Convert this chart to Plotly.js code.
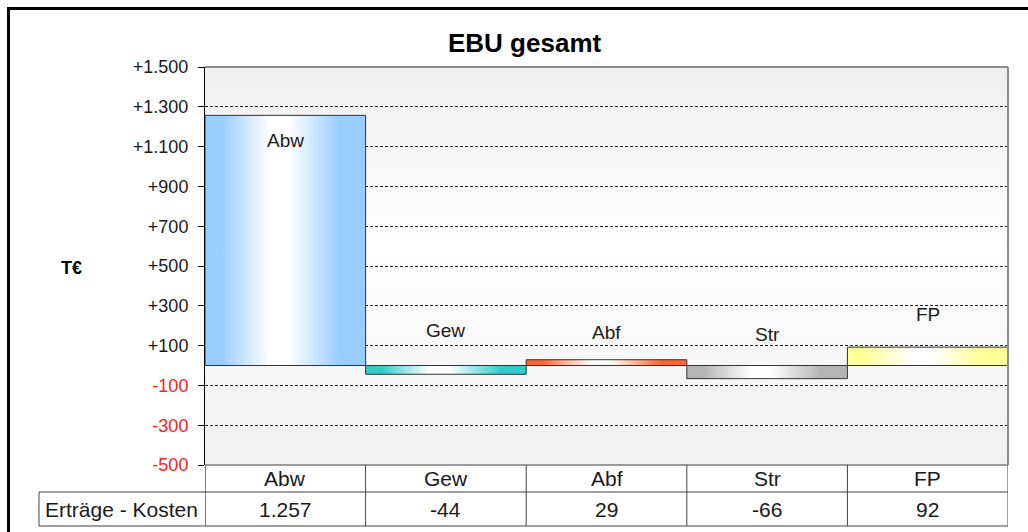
<!DOCTYPE html>
<html>
<head>
<meta charset="utf-8">
<script src="https://cdn.plot.ly/plotly-3.0.1.min.js"></script>
<style>html,body{margin:0;padding:0;background:#fff;}#chart{width:1028px;height:532px;}</style>
</head>
<body>
<div id="chart"></div>
<script>
// ---- data ----
const categories = ['Abw', 'Gew', 'Abf', 'Str', 'FP'];
const values = [1257, -44, 29, -66, 92];
const rowLabel = 'Erträge - Kosten';
const tickValues = [-500, -300, -100, 100, 300, 500, 700, 900, 1100, 1300, 1500];
const chartTitle = 'EBU gesamt';
const unitLabel = 'T€';

// ---- styles ----
const barColors = ['#99ccff', '#33cccc', '#ff6633', '#b4b4b4', '#ffff99'];
const labelShift = [-25, 35, 27, 31, 33];
const FONT = 'Liberation Sans, Arial, sans-serif';
const TXT = '#1a1a1a';

// plot area in pixels
const L = 205, R = 1008, T = 67, B = 465, W = 1028, H = 532;
const px2x = p => (p - L) / (R - L);
const px2y = p => (B - p) / (B - T);

function fmt(v) {
  const s = String(Math.abs(v)).replace(/\B(?=(\d{3})+(?!\d))/g, '.');
  return (v < 0 ? '-' : '') + s;
}
const tickText = tickValues.map(v => v < 0
  ? '<span style="color:#ff2020">' + fmt(v) + '</span>'
  : '+' + fmt(v));

// bars as filled shapes with horizontal gradient
const traces = categories.map((c, i) => ({
  type: 'scatter', mode: 'lines',
  x: [i - 0.5, i + 0.5, i + 0.5, i - 0.5, i - 0.5],
  y: [0, 0, values[i], values[i], 0],
  fill: 'toself',
  fillcolor: barColors[i],
  fillgradient: {
    type: 'horizontal',
    colorscale: [[0, barColors[i]], [0.1, barColors[i]], [0.4, '#ffffff'], [0.52, '#ffffff'], [0.84, barColors[i]], [1, barColors[i]]]
  },
  line: {color: '#333333', width: 1},
  hoverinfo: 'skip', showlegend: false, name: c
}));

const annotations = [];
categories.forEach((c, i) => {
  annotations.push({x: i, y: Math.max(values[i], 0), xref: 'x', yref: 'y', text: c, showarrow: false,
    yshift: labelShift[i], xanchor: 'center', yanchor: 'middle', font: {family: FONT, size: 19, color: TXT}});
  annotations.push({x: i, y: px2y(478.5), xref: 'x', yref: 'paper', text: c, showarrow: false,
    xanchor: 'center', yanchor: 'middle', font: {family: FONT, size: 21, color: TXT}});
  annotations.push({x: i, y: px2y(509), xref: 'x', yref: 'paper', text: fmt(values[i]), showarrow: false,
    xanchor: 'center', yanchor: 'middle', font: {family: FONT, size: 21, color: TXT}});
});
annotations.push({x: px2x(121), y: px2y(509), xref: 'paper', yref: 'paper', text: rowLabel, showarrow: false,
  xanchor: 'center', yanchor: 'middle', font: {family: FONT, size: 21, color: TXT}});
annotations.push({x: px2x(524), y: px2y(43), xref: 'paper', yref: 'paper', text: '<b>' + chartTitle + '</b>', showarrow: false,
  xanchor: 'center', yanchor: 'middle', font: {family: FONT, size: 26, color: '#000'}});
annotations.push({x: px2x(71), y: px2y(268), xref: 'paper', yref: 'paper', text: '<b>' + unitLabel + '</b>', showarrow: false,
  xanchor: 'center', yanchor: 'middle', font: {family: FONT, size: 18, color: '#000'}});

const lineStyle = {color: '#404040', width: 1};
const shapes = [];
// table horizontal lines
shapes.push({type: 'line', xref: 'paper', yref: 'paper', x0: 0, x1: 1, y0: 0, y1: 0, line: lineStyle});
shapes.push({type: 'line', xref: 'paper', yref: 'paper', x0: px2x(39), x1: 1, y0: px2y(492), y1: px2y(492), line: lineStyle});
shapes.push({type: 'line', xref: 'paper', yref: 'paper', x0: px2x(39), x1: 1, y0: px2y(526), y1: px2y(526), line: lineStyle});
shapes.push({type: 'line', xref: 'paper', yref: 'paper', x0: px2x(39), x1: px2x(39), y0: px2y(492), y1: px2y(526), line: lineStyle});
// category dividers in table
for (let i = 0; i <= categories.length; i++) {
  shapes.push({type: 'line', xref: 'x', yref: 'paper', x0: i - 0.5, x1: i - 0.5, y0: 0, y1: px2y(526),
    line: i === 0 ? {color: '#000', width: 1} : lineStyle});
}
// plot area top & right border
shapes.push({type: 'line', xref: 'paper', yref: 'paper', x0: 0, x1: 1, y0: 1, y1: 1, line: {color: '#8c8c8c', width: 2}});
shapes.push({type: 'line', xref: 'paper', yref: 'paper', x0: 1, x1: 1, y0: 0, y1: 1, line: {color: '#8c8c8c', width: 2}});
// outer frame (top & left)
shapes.push({type: 'line', xref: 'paper', yref: 'paper', x0: px2x(7), x1: px2x(W + 10), y0: px2y(8.5), y1: px2y(8.5), line: {color: '#000', width: 3}});
shapes.push({type: 'line', xref: 'paper', yref: 'paper', x0: px2x(8.5), x1: px2x(8.5), y0: px2y(7), y1: px2y(H + 10), line: {color: '#000', width: 3}});

const bgSvg = "<svg xmlns='http://www.w3.org/2000/svg' width='10' height='100' viewBox='0 0 10 100' preserveAspectRatio='none'>" +
  "<defs><linearGradient id='g' x1='0' y1='0' x2='0' y2='1'>" +
  "<stop offset='0' stop-color='#eeeeee'/><stop offset='0.45' stop-color='#ffffff'/><stop offset='1' stop-color='#f0f0f0'/>" +
  "</linearGradient></defs><rect width='10' height='100' fill='url(#g)'/></svg>";
const bgSrc = 'data:image/svg+xml;charset=utf-8,' + encodeURIComponent(bgSvg);

const layout = {
  width: W, height: H,
  margin: {l: L, r: W - R, t: T, b: H - B, pad: 0},
  paper_bgcolor: '#ffffff',
  plot_bgcolor: 'rgba(0,0,0,0)',
  font: {family: FONT, color: TXT},
  showlegend: false,
  xaxis: {range: [-0.5, categories.length - 0.5], showgrid: false, zeroline: false, showticklabels: false,
    ticks: '', showline: false, fixedrange: true},
  yaxis: {range: [-500, 1500], tickmode: 'array', tickvals: tickValues, ticktext: tickText,
    ticks: 'outside', ticklen: 6, tickcolor: '#000', tickwidth: 1, ticklabelstandoff: 6,
    tickfont: {family: FONT, size: 18, color: TXT},
    showline: true, linecolor: '#000', linewidth: 1,
    showgrid: true, gridcolor: '#1a1a1a', gridwidth: 1, griddash: '3px,2px',
    zeroline: false, fixedrange: true},
  images: [{source: bgSrc, xref: 'paper', yref: 'paper', x: 0, y: 1, sizex: 1, sizey: 1,
    sizing: 'stretch', xanchor: 'left', yanchor: 'top', layer: 'below'}],
  annotations: annotations,
  shapes: shapes
};

Plotly.newPlot('chart', traces, layout, {staticPlot: true, displayModeBar: false});
</script>
</body>
</html>
